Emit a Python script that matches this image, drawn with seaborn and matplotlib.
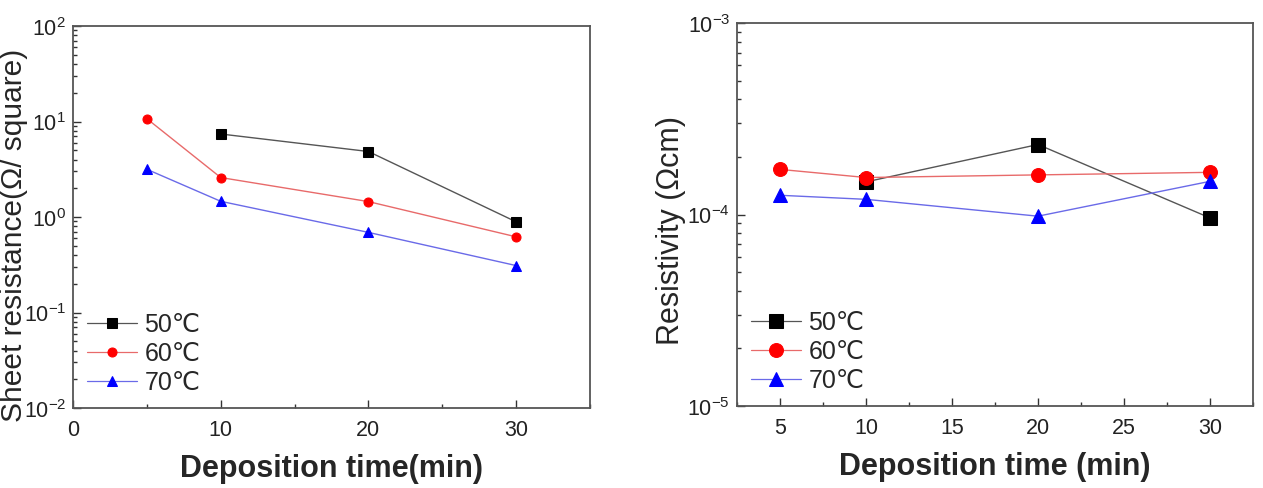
import matplotlib
matplotlib.use("Agg")
import matplotlib.pyplot as plt
import numpy as np
import seaborn as sns
from matplotlib.ticker import LogLocator, MultipleLocator, NullFormatter

# sheet resistance (ohm/sq) vs deposition time
sheet_t50 = [10, 20, 30]
sheet_r50 = [7.4, 4.85, 0.89]
sheet_t60 = [5, 10, 20, 30]
sheet_r60 = [10.7, 2.59, 1.45, 0.62]
sheet_t70 = [5, 10, 20, 30]
sheet_r70 = [3.16, 1.46, 0.69, 0.31]

# resistivity (ohm cm) vs deposition time
rho_t50 = [10, 20, 30]
rho_v50 = [1.48e-4, 2.32e-4, 0.96e-4]
rho_t60 = [5, 10, 20, 30]
rho_v60 = [1.72e-4, 1.56e-4, 1.61e-4, 1.66e-4]
rho_t70 = [5, 10, 20, 30]
rho_v70 = [1.26e-4, 1.20e-4, 0.98e-4, 1.49e-4]

labels = ["50℃", "60℃", "70℃"]
colors = ["#000000", "#ff0000", "#0000ff"]
line_colors = ["#555555", "#e86a6a", "#6a6ae8"]
markers = ["s", "o", "^"]

sns.set_theme(style="ticks")
plt.rcParams["font.family"] = ["Liberation Sans", "DejaVu Sans"]
plt.rcParams["mathtext.fontset"] = "custom"
plt.rcParams["mathtext.rm"] = "Liberation Sans"
plt.rcParams["mathtext.it"] = "Liberation Sans"
plt.rcParams["mathtext.default"] = "regular"

fig = plt.figure(figsize=(12.63, 4.89), dpi=100)
ax0 = fig.add_axes([73 / 1263, 80 / 489, 517 / 1263, 382 / 489])
ax1 = fig.add_axes([737 / 1263, 82 / 489, 516 / 1263, 383 / 489])


def draw(ax, series, msize):
    for (t, v), lab, c, lc, m in zip(series, labels, colors, line_colors, markers):
        sns.lineplot(x=t, y=v, ax=ax, color=lc, marker=m, markersize=msize,
                     markerfacecolor=c, markeredgecolor=c, linewidth=1.0,
                     label=lab, sort=False, errorbar=None)
    ax.set_yscale("log")
    ax.yaxis.set_major_locator(LogLocator(base=10, numticks=10))
    ax.yaxis.set_minor_locator(LogLocator(base=10, subs=np.arange(2, 10), numticks=10))
    ax.yaxis.set_minor_formatter(NullFormatter())
    ax.tick_params(which="both", direction="in", top=False, right=False,
                   colors="#333333", labelcolor="#222222", labelsize=15.5, width=1.0)
    ax.tick_params(which="major", length=6, pad=5)
    ax.tick_params(axis="x", which="major", pad=8)
    ax.tick_params(which="minor", length=3)
    for s in ax.spines.values():
        s.set_color("#555555")
        s.set_linewidth(1.3)
        s.set_visible(True)
    leg = ax.legend(loc="lower left", frameon=False, fontsize=18, handlelength=2.0,
                    handletextpad=0.3, borderaxespad=0.3, borderpad=0.25,
                    labelspacing=0.2)
    for line in leg.get_lines():
        line.set_linewidth(0.9)


draw(ax0, [(sheet_t50, sheet_r50), (sheet_t60, sheet_r60), (sheet_t70, sheet_r70)], 6.5)
ax0.set_xlim(0, 35)
ax0.set_ylim(1e-2, 1e2)
ax0.xaxis.set_major_locator(MultipleLocator(10))
ax0.xaxis.set_minor_locator(MultipleLocator(5))
ax0.set_xlabel("Deposition time(min)", fontsize=22, fontweight="bold", labelpad=9)
ax0.set_ylabel("Sheet resistance(Ω/ square)", fontsize=21.5)
ax0.yaxis.set_label_coords(-0.088, 0.455)

draw(ax1, [(rho_t50, rho_v50), (rho_t60, rho_v60), (rho_t70, rho_v70)], 10)
ax1.set_xlim(2.5, 32.5)
ax1.set_ylim(1e-5, 1e-3)
ax1.xaxis.set_major_locator(MultipleLocator(5))
ax1.xaxis.set_minor_locator(MultipleLocator(2.5))
ax1.set_xlabel("Deposition time (min)", fontsize=22, fontweight="bold", labelpad=9)
ax1.set_ylabel("Resistivity (Ωcm)", fontsize=22)
ax1.yaxis.set_label_coords(-0.099, 0.462)

fig.savefig("out.png", dpi=100, facecolor="white")
